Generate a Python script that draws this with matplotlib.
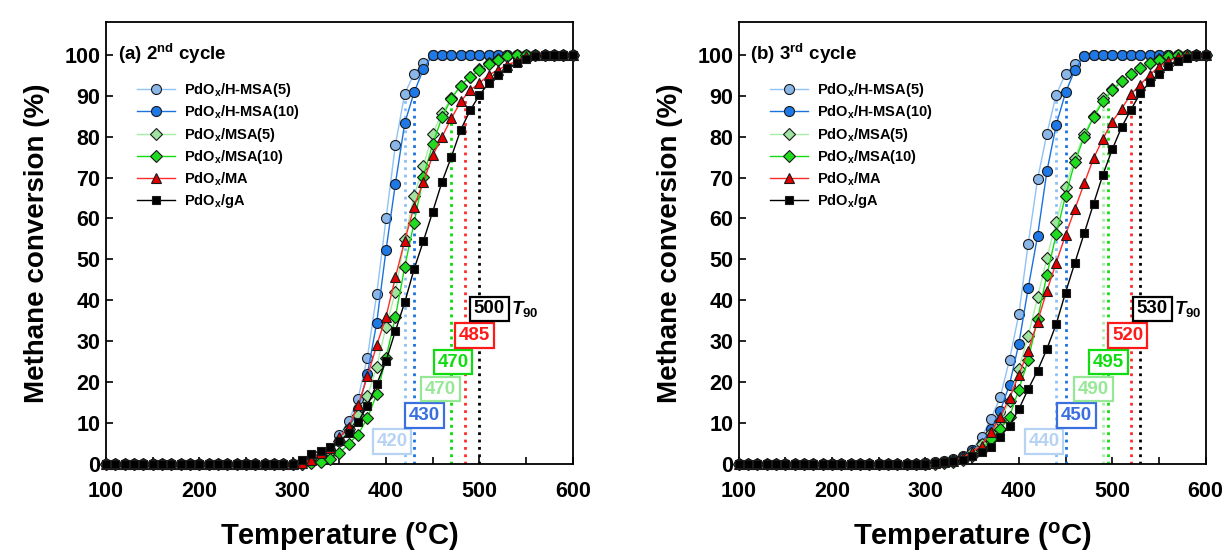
import matplotlib
matplotlib.use("Agg")
import matplotlib.pyplot as plt
from matplotlib.ticker import MultipleLocator

plt.rcParams['font.family'] = ['Liberation Sans', 'DejaVu Sans']
plt.rcParams['font.weight'] = 'bold'
plt.rcParams['mathtext.fontset'] = 'custom'
plt.rcParams['mathtext.rm'] = 'Liberation Sans:bold'
plt.rcParams['mathtext.bf'] = 'Liberation Sans:bold'
plt.rcParams['mathtext.it'] = 'Liberation Sans:italic:bold'

# ---------------- data ----------------
temps = [100, 110, 120, 130, 140, 150, 160, 170, 180, 190, 200, 210, 220, 230, 240, 250, 260,
         270, 280, 290, 300, 310, 320, 330, 340, 350, 360, 370, 380, 390, 400, 410, 420, 430,
         440, 450, 460, 470, 480, 490, 500, 510, 520, 530, 540, 550, 560, 570, 580, 590, 600]

labels = ['PdO$_{\\mathrm{x}}$/H-MSA(5)', 'PdO$_{\\mathrm{x}}$/H-MSA(10)', 'PdO$_{\\mathrm{x}}$/MSA(5)',
          'PdO$_{\\mathrm{x}}$/MSA(10)', 'PdO$_{\\mathrm{x}}$/MA', 'PdO$_{\\mathrm{x}}$/gA']

# panel (a) 2nd cycle
hmsa5_a = [0, 0, 0, 0, 0, 0, 0, 0, 0, 0, 0, 0, 0, 0, 0, 0, 0, 0, 0, 0,
           0, 0.5, 1, 2, 3.5, 7, 10.5, 16, 26, 41.5, 60, 78, 90.5, 95.4, 98, 100,
           100, 100, 100, 100, 100, 100, 100, 100, 100, 100, 100, 100, 100, 100, 100]
hmsa10_a = [0, 0, 0, 0, 0, 0, 0, 0, 0, 0, 0, 0, 0, 0, 0, 0, 0, 0, 0, 0,
            0, 0.3, 0.8, 1.5, 3, 5.5, 8.5, 13.5, 22, 34.5, 52.3, 68.5, 83.3, 90.8, 96.5, 100,
            100, 100, 100, 100, 100, 100, 100, 100, 100, 100, 100, 100, 100, 100, 100]
msa5_a = [0, 0, 0, 0, 0, 0, 0, 0, 0, 0, 0, 0, 0, 0, 0, 0, 0, 0, 0, 0,
          0, 0, 0.5, 1.5, 3, 5.5, 8.5, 12, 16.5, 23.8, 33.6, 42, 55, 65.4, 72.9, 80.7,
          85.9, 89.4, 92.5, 94.5, 96.5, 98, 99, 99.6, 100, 100, 100, 100, 100, 100, 100]
msa10_a = [0, 0, 0, 0, 0, 0, 0, 0, 0, 0, 0, 0, 0, 0, 0, 0, 0, 0, 0, 0,
           0, 0, 0.2, 0.4, 1.2, 2.6, 4.9, 7.2, 11.2, 17, 26, 35.9, 48.2, 59, 70.2, 78.2,
           84.8, 89.3, 92.5, 94.7, 96.2, 97.8, 98.8, 99.6, 100, 100, 100, 100, 100, 100, 100]
ma_a = [0, 0, 0, 0, 0, 0, 0, 0, 0, 0, 0, 0, 0, 0, 0, 0, 0, 0, 0, 0,
        0, 0.3, 1, 2.6, 4, 6.5, 9, 14.3, 21.4, 29, 36, 45.6, 54.6, 62.9, 69, 75.4,
        80, 84.5, 88.6, 91.4, 93.1, 95.1, 96.3, 97.6, 98.4, 99.6, 100, 100, 100, 100, 100]
ga_a = [0, 0, 0, 0, 0, 0, 0, 0, 0, 0, 0, 0, 0, 0, 0, 0, 0, 0, 0, 0,
        0, 1, 2.5, 3.2, 4.2, 5.5, 7.5, 10.3, 14.2, 19.5, 25.2, 32.5, 39.5, 47.6, 54.5, 61.7,
        69, 75.1, 81.7, 86.4, 90.2, 93.1, 95.1, 96.7, 98, 98.9, 99.8, 100, 100, 100, 100]
t90_a = [420, 430, 470, 470, 485, 500]
t90_text_a = ['420', '430', '470', '470', '485', '500']

# panel (b) 3rd cycle
hmsa5_b = [0, 0, 0, 0, 0, 0, 0, 0, 0, 0, 0, 0, 0, 0, 0, 0, 0, 0, 0, 0,
           0.2, 0.4, 0.8, 1.2, 2, 3.5, 6.5, 11, 16.3, 25.5, 36.6, 53.8, 69.6, 80.7, 90.3, 95.4,
           97.8, 99.7, 100, 100, 100, 100, 100, 100, 100, 100, 100, 100, 100, 100, 100]
hmsa10_b = [0, 0, 0, 0, 0, 0, 0, 0, 0, 0, 0, 0, 0, 0, 0, 0, 0, 0, 0, 0,
            0.2, 0.3, 0.6, 1, 1.8, 3.3, 5, 8.5, 12.9, 19.4, 29.4, 43, 55.7, 71.5, 82.9, 90.8,
            96.3, 99.8, 100, 100, 100, 100, 100, 100, 100, 100, 100, 100, 100, 100, 100]
msa5_b = [0, 0, 0, 0, 0, 0, 0, 0, 0, 0, 0, 0, 0, 0, 0, 0, 0, 0, 0, 0,
          0, 0.2, 0.4, 0.8, 1.5, 3, 4.8, 7.5, 10.5, 15.5, 23.3, 31.3, 40.7, 50.3, 59.2, 67.8,
          74.9, 80.6, 85.1, 89.4, 91.6, 93.6, 95.3, 96.7, 98, 99, 99.6, 100, 100, 100, 100]
msa10_b = [0, 0, 0, 0, 0, 0, 0, 0, 0, 0, 0, 0, 0, 0, 0, 0, 0, 0, 0, 0,
           0, 0.1, 0.3, 0.6, 1, 2, 3.5, 6, 8.5, 11.6, 18.2, 25.5, 35.4, 46.2, 56.2, 65.6,
           73.8, 80, 84.8, 88.6, 91.3, 93.5, 95.4, 96.7, 98, 98.8, 99.6, 100, 100, 100, 100]
ma_b = [0, 0, 0, 0, 0, 0, 0, 0, 0, 0, 0, 0, 0, 0, 0, 0, 0, 0, 0, 0,
        0, 0.2, 0.5, 0.8, 1.5, 3, 4.5, 7.7, 11.5, 16.1, 21.8, 27.7, 34.8, 42.3, 49.2, 56,
        62.3, 68.6, 74.7, 79.5, 83.7, 86.8, 90.4, 92.7, 95.1, 97.1, 98.4, 99.4, 100, 100, 100]
ga_b = [0, 0, 0, 0, 0, 0, 0, 0, 0, 0, 0, 0, 0, 0, 0, 0, 0, 0, 0, 0,
        0.1, 0.3, 0.5, 0.8, 1, 2, 2.9, 4.2, 6.7, 9.4, 13.4, 18.3, 22.8, 28.1, 34.2, 41.9,
        49.2, 56.4, 63.6, 70.7, 76.9, 82.3, 86.6, 90.6, 93.3, 95.4, 97.2, 98.4, 99.2, 100, 100]
t90_b = [440, 450, 490, 495, 520, 530]
t90_text_b = ['440', '450', '490', '495', '520', '530']

x_ticks = [100, 200, 300, 400, 500, 600]
y_ticks = [0, 10, 20, 30, 40, 50, 60, 70, 80, 90, 100]

# ---------------- styles ----------------
line_colors = ['#8fc2f5', '#1a72e0', '#a6eea6', '#10dd10', '#ff2a2a', '#000000']
face_colors = ['#8ab6e8', '#1e78e6', '#a0e2a0', '#20dc20', '#e00000', '#000000']
markers = ['o', 'o', 'D', 'D', '^', 's']
msizes = [7.2, 7.2, 6.0, 6.0, 7.2, 6.4]
box_colors = ['#b6d3f3', '#3a6fe0', '#96e896', '#10dd10', '#ff1a1a', '#000000']
vline_colors = ['#8cc0f5', '#1a72e0', '#a6eea6', '#10dd10', '#ff2a2a', '#000000']

fig = plt.figure(figsize=(12.24, 5.53), dpi=100)
ax_a = fig.add_axes([0.0865, 0.161, 0.3815, 0.799])
ax_b = fig.add_axes([0.6035, 0.161, 0.3815, 0.799])


def draw_panel(ax, series, t90, t90_text, box_pos, title):
    for i, y in enumerate(series):
        ax.plot(temps, y, color=line_colors[i], lw=1.0, marker=markers[i], ms=msizes[i],
                mfc=face_colors[i], mec='#1a1a1a', mew=0.8, label=labels[i], clip_on=False,
                zorder=3 + i)
    for i, t in enumerate(t90):
        ax.plot([t, t], [0, 90], ls=':', color=vline_colors[i], lw=2.0, zorder=2)
        bx, by = box_pos[i]
        ax.text(bx, by, t90_text[i], color=box_colors[i], fontsize=13.5, fontweight='bold',
                ha='center', va='center', zorder=20,
                bbox=dict(boxstyle='square,pad=0.2', fc='white', ec=box_colors[i], lw=1.6))
    ax.text(box_pos[5][0] + 38, box_pos[5][1], '$\\mathit{T}_{90}$', fontsize=13.5,
            ha='center', va='center', color='black')
    ax.set_xlim(100, 600)
    ax.set_ylim(0, 108)
    ax.set_xticks(x_ticks)
    ax.set_yticks(y_ticks)
    ax.xaxis.set_minor_locator(MultipleLocator(50))
    ax.tick_params(axis='both', which='both', direction='in', length=5, width=1.2,
                   labelsize=15.5, top=False, right=False)
    ax.tick_params(axis='x', pad=12)
    ax.tick_params(axis='y', pad=4)
    for s in ax.spines.values():
        s.set_linewidth(1.3)
    for lab in ax.get_xticklabels() + ax.get_yticklabels():
        lab.set_fontweight('bold')
    ax.set_xlabel('Temperature ($^{\\mathrm{o}}$C)', fontsize=21, fontweight='bold', labelpad=14)
    ax.set_ylabel('Methane conversion (%)', fontsize=20, fontweight='bold', labelpad=10)
    ax.text(0.025, 0.955, title, transform=ax.transAxes, fontsize=13.5, fontweight='bold',
            ha='left', va='top')
    leg = ax.legend(loc='upper left', bbox_to_anchor=(0.055, 0.88), frameon=False,
                    fontsize=10.5, handlelength=2.6, labelspacing=0.3, handletextpad=0.6,
                    borderaxespad=0.0)
    for t in leg.get_texts():
        t.set_fontweight('bold')


box_pos_a = [(406.5, 5.5), (441, 11.8), (458, 18.3), (471.5, 24.9), (494.7, 31.4), (510.8, 37.9)]
box_pos_b = [(427, 5.5), (462, 11.8), (480, 18.3), (496, 24.9), (516.6, 31.4), (543, 37.9)]

draw_panel(ax_a, [hmsa5_a, hmsa10_a, msa5_a, msa10_a, ma_a, ga_a], t90_a, t90_text_a,
           box_pos_a, '(a) 2$^{\\mathrm{nd}}$ cycle')
draw_panel(ax_b, [hmsa5_b, hmsa10_b, msa5_b, msa10_b, ma_b, ga_b], t90_b, t90_text_b,
           box_pos_b, '(b) 3$^{\\mathrm{rd}}$ cycle')

fig.savefig('out.png', dpi=100)
